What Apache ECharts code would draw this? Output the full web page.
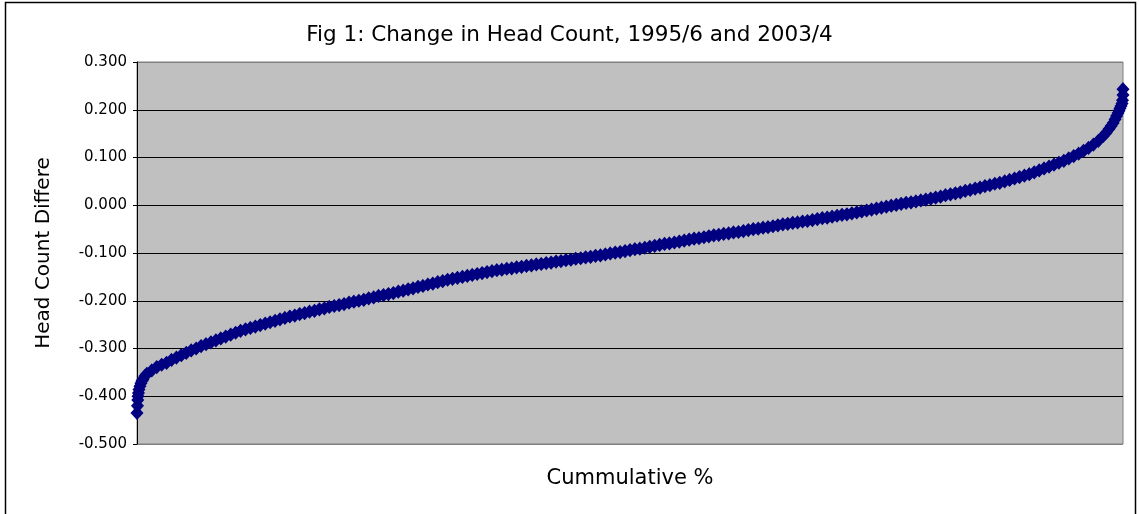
<!DOCTYPE html>
<html>
<head>
<meta charset="utf-8">
<script src="https://cdn.jsdelivr.net/npm/echarts@6/dist/echarts.min.js"></script>
<style>
html,body{margin:0;padding:0;background:#fff;}
#chart{width:1139px;height:514px;}
</style>
</head>
<body>
<div id="chart"></div>
<script>
// Cumulative % (rank position) of each observation
const cumPct = [
  0, 0.05, 0.08, 0.1, 0.15, 0.2, 0.3, 0.4, 0.5, 0.6, 0.8, 1.0,
  1.5, 2, 2.5, 3, 3.5, 4, 4.5, 5, 5.5, 6, 6.5, 7, 7.5, 8, 8.5, 9, 9.5, 10,
  10.5, 11, 11.5, 12, 12.5, 13, 13.5, 14, 14.5, 15, 15.5, 16, 16.5, 17, 17.5, 18, 18.5, 19, 19.5, 20,
  20.5, 21, 21.5, 22, 22.5, 23, 23.5, 24, 24.5, 25, 25.5, 26, 26.5, 27, 27.5, 28, 28.5, 29, 29.5, 30,
  30.5, 31, 31.5, 32, 32.5, 33, 33.5, 34, 34.5, 35, 35.5, 36, 36.5, 37, 37.5, 38, 38.5, 39, 39.5, 40,
  40.5, 41, 41.5, 42, 42.5, 43, 43.5, 44, 44.5, 45, 45.5, 46, 46.5, 47, 47.5, 48, 48.5, 49, 49.5, 50,
  50.5, 51, 51.5, 52, 52.5, 53, 53.5, 54, 54.5, 55, 55.5, 56, 56.5, 57, 57.5, 58, 58.5, 59, 59.5, 60,
  60.5, 61, 61.5, 62, 62.5, 63, 63.5, 64, 64.5, 65, 65.5, 66, 66.5, 67, 67.5, 68, 68.5, 69, 69.5, 70,
  70.5, 71, 71.5, 72, 72.5, 73, 73.5, 74, 74.5, 75, 75.5, 76, 76.5, 77, 77.5, 78, 78.5, 79, 79.5, 80,
  80.5, 81, 81.5, 82, 82.5, 83, 83.5, 84, 84.5, 85, 85.5, 86, 86.5, 87, 87.5, 88, 88.5, 89, 89.5, 90,
  90.5, 91, 91.5, 92, 92.5, 93, 93.5, 94, 94.5, 95, 95.5, 96, 96.5, 97, 97.5, 98,
  98.3, 98.6, 98.8, 99, 99.2, 99.35, 99.5, 99.6, 99.7, 99.8, 99.9, 99.95, 100, 100
];
// Head count difference for each observation
const headCountDiff = [
  -0.435, -0.420, -0.408, -0.400, -0.393, -0.386, -0.379, -0.373, -0.368, -0.365, -0.358, -0.353,
  -0.346, -0.339, -0.334, -0.330, -0.324, -0.319, -0.314, -0.309, -0.304, -0.300, -0.295, -0.291, -0.287, -0.283, -0.279, -0.275, -0.271, -0.267,
  -0.263, -0.260, -0.257, -0.254, -0.251, -0.248, -0.245, -0.242, -0.239, -0.236, -0.233, -0.231, -0.228, -0.226, -0.223, -0.221, -0.218, -0.216, -0.213, -0.211,
  -0.209, -0.207, -0.204, -0.202, -0.200, -0.198, -0.195, -0.193, -0.190, -0.188, -0.186, -0.184, -0.181, -0.179, -0.176, -0.174, -0.171, -0.169, -0.166, -0.164,
  -0.161, -0.159, -0.156, -0.154, -0.152, -0.150, -0.148, -0.146, -0.144, -0.142, -0.140, -0.138, -0.136, -0.135, -0.133, -0.132, -0.130, -0.129, -0.127, -0.126,
  -0.124, -0.123, -0.121, -0.120, -0.118, -0.117, -0.115, -0.114, -0.112, -0.111, -0.109, -0.108, -0.106, -0.105, -0.103, -0.101, -0.099, -0.098, -0.096, -0.094,
  -0.092, -0.091, -0.089, -0.087, -0.085, -0.083, -0.081, -0.080, -0.078, -0.076, -0.074, -0.072, -0.070, -0.069, -0.067, -0.065, -0.063, -0.062, -0.060, -0.059,
  -0.057, -0.056, -0.054, -0.052, -0.050, -0.049, -0.047, -0.046, -0.044, -0.042, -0.040, -0.039, -0.037, -0.036, -0.034, -0.033, -0.031, -0.029, -0.027, -0.026,
  -0.024, -0.022, -0.020, -0.019, -0.017, -0.015, -0.013, -0.011, -0.009, -0.007, -0.005, -0.003, -0.001, 0.001, 0.003, 0.005, 0.006, 0.008, 0.010, 0.012,
  0.014, 0.016, 0.018, 0.021, 0.023, 0.025, 0.027, 0.030, 0.032, 0.035, 0.037, 0.040, 0.042, 0.045, 0.047, 0.050, 0.053, 0.056, 0.059, 0.062,
  0.065, 0.069, 0.073, 0.077, 0.081, 0.085, 0.089, 0.093, 0.098, 0.103, 0.108, 0.114, 0.120, 0.127, 0.135, 0.145,
  0.152, 0.160, 0.166, 0.172, 0.180, 0.187, 0.193, 0.198, 0.203, 0.208, 0.213, 0.220, 0.231, 0.243
];
// Y-axis tick values
const yTicks = [-0.5, -0.4, -0.3, -0.2, -0.1, 0.0, 0.1, 0.2, 0.3];

const titleText = 'Fig 1: Change in Head Count, 1995/6 and 2003/4';
const xAxisName = 'Cummulative %';
const yAxisName = 'Head Count Differe';

const points = cumPct.map((p, i) => [p, headCountDiff[i]]);
const FONT = 'DejaVu Sans';

const splitColors = yTicks.map((t, i) => (i === 0 || i === yTicks.length - 1) ? '#808080' : '#000000');

const chart = echarts.init(document.getElementById('chart'), null, {renderer: 'canvas'});
chart.setOption({
  animation: false,
  backgroundColor: '#ffffff',
  title: {
    text: titleText,
    left: 'center',
    top: 19,
    textStyle: {fontFamily: FONT, fontSize: 21.5, fontWeight: 'normal', color: '#000'}
  },
  graphic: [{
    type: 'rect',
    shape: {x: 5.5, y: 2.5, width: 1130, height: 530},
    style: {fill: 'none', stroke: '#000', lineWidth: 1.5},
    silent: true
  }],
  grid: {
    left: 137, top: 62, width: 986, height: 382,
    show: true, backgroundColor: '#C0C0C0', borderColor: '#808080', borderWidth: 1
  },
  xAxis: {
    type: 'value', min: 0, max: 100,
    name: xAxisName, nameLocation: 'middle', nameGap: 24,
    nameTextStyle: {fontFamily: FONT, fontSize: 21, color: '#000'},
    axisLine: {show: false}, axisTick: {show: false}, axisLabel: {show: false},
    splitLine: {show: false}
  },
  yAxis: {
    type: 'value', min: yTicks[0], max: yTicks[yTicks.length - 1], interval: 0.1,
    name: yAxisName, nameLocation: 'middle', nameGap: 83, nameRotate: 90,
    nameTextStyle: {fontFamily: FONT, fontSize: 20, color: '#000'},
    axisLine: {show: true, lineStyle: {color: '#000', width: 1}},
    axisTick: {show: true, length: 4, lineStyle: {color: '#000'}},
    axisLabel: {
      margin: 10, fontFamily: FONT, fontSize: 15, color: '#000',
      formatter: v => v.toFixed(3)
    },
    splitLine: {show: true, lineStyle: {color: splitColors, width: 1}}
  },
  series: [{
    type: 'scatter',
    data: points,
    symbol: 'diamond',
    symbolSize: [11, 12],
    itemStyle: {color: '#000080', opacity: 1, borderColor: '#000080', borderWidth: 1.5},
    z: 5
  }]
});
</script>
</body>
</html>
